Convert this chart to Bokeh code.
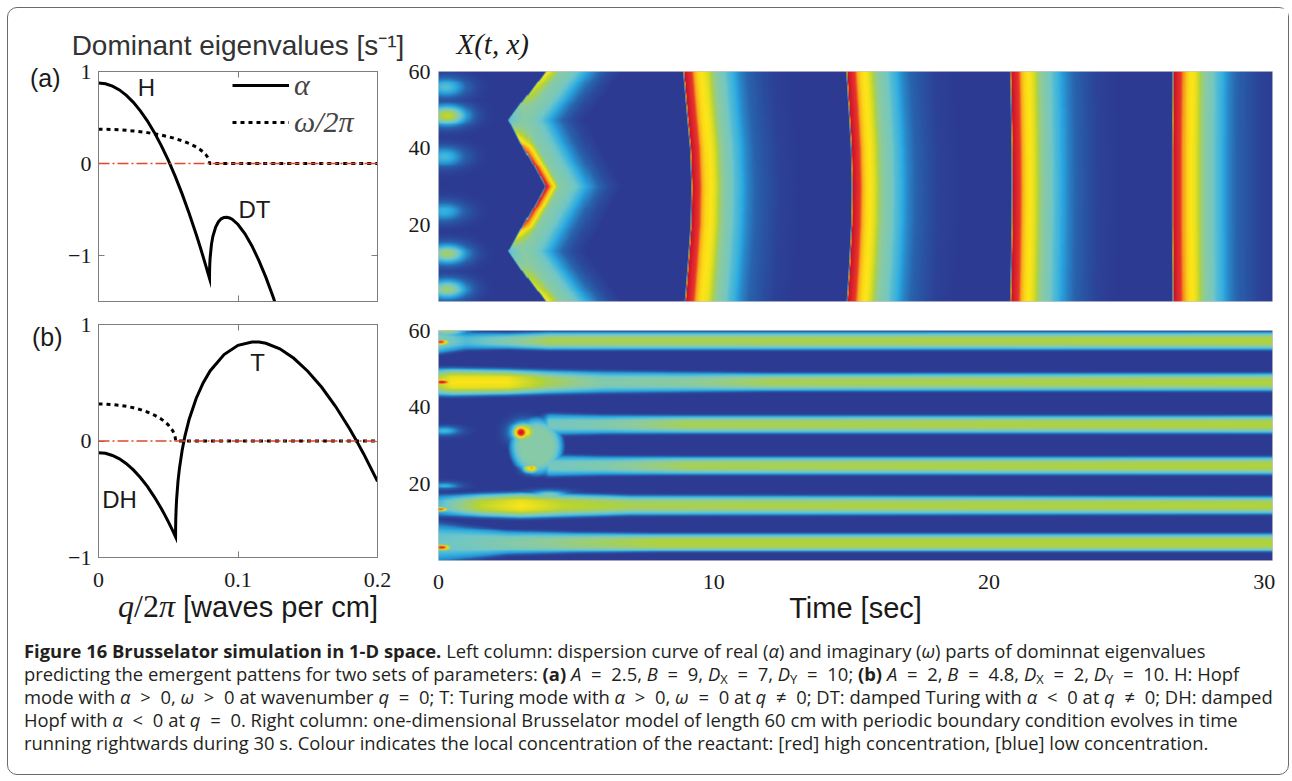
import numpy as np
from bokeh.plotting import figure
from bokeh.models import (Range1d, LinearAxis, FixedTicker, Label, Legend, LegendItem,
                          Span, LinearColorMapper, Div, Title)
from bokeh.layouts import column, row
from bokeh.embed import file_html
from bokeh.resources import INLINE

# ---------------------------------------------------------------- data
# (a) dispersion curve: wavenumber q/2pi, real part alpha, imaginary part omega/2pi
qa = [0, 0.005, 0.01, 0.015, 0.02, 0.025, 0.03, 0.035, 0.04, 0.045, 0.05, 0.055, 0.06,
      0.065, 0.07, 0.073, 0.075, 0.077, 0.0785, 0.0792, 0.0795, 0.07958, 0.07962, 0.0797,
      0.0798, 0.080, 0.081, 0.082, 0.084, 0.086, 0.088, 0.090, 0.092, 0.094, 0.096, 0.100,
      0.105, 0.110, 0.115, 0.120, 0.125, 0.127]
alpha_a = [0.875, 0.867, 0.841, 0.800, 0.741, 0.665, 0.573, 0.464, 0.338, 0.195, 0.036,
           -0.140, -0.333, -0.543, -0.769, -0.913, -1.013, -1.115, -1.193, -1.230, -1.246,
           -1.250, -1.175, -1.125, -1.085, -1.028, -0.876, -0.791, -0.690, -0.633, -0.601,
           -0.586, -0.584, -0.592, -0.608, -0.663, -0.764, -0.896, -1.055, -1.238, -1.443,
           -1.531]
qa_w = [0, 0.005, 0.01, 0.015, 0.02, 0.025, 0.03, 0.035, 0.04, 0.045, 0.05, 0.055, 0.06,
        0.065, 0.07, 0.073, 0.075, 0.077, 0.0785, 0.0792, 0.0795, 0.07958, 0.2]
omega_a = [0.3727, 0.3720, 0.3698, 0.3662, 0.3611, 0.3543, 0.3459, 0.3356, 0.3233, 0.3087,
           0.2914, 0.2710, 0.2466, 0.2169, 0.1790, 0.1500, 0.1260, 0.0952, 0.0619, 0.0367,
           0.0167, 0.0, 0.0]

# (b) dispersion curve
qb = [0, 0.005, 0.01, 0.015, 0.02, 0.025, 0.03, 0.035, 0.04, 0.045, 0.0475, 0.05, 0.053,
      0.054, 0.0548, 0.055, 0.0552, 0.05524, 0.0553, 0.0554, 0.0556, 0.056, 0.057, 0.058,
      0.060, 0.062, 0.065, 0.07, 0.075, 0.08, 0.09, 0.10, 0.11, 0.115, 0.12, 0.13, 0.14,
      0.15, 0.16, 0.17, 0.18, 0.185, 0.19, 0.2]
alpha_b = [-0.100, -0.106, -0.124, -0.153, -0.195, -0.248, -0.313, -0.390, -0.479, -0.580,
           -0.634, -0.692, -0.765, -0.791, -0.811, -0.817, -0.822, -0.823, -0.725, -0.668,
           -0.596, -0.499, -0.345, -0.237, -0.077, 0.045, 0.187, 0.365, 0.498, 0.601, 0.742,
           0.821, 0.850, 0.849, 0.839, 0.791, 0.710, 0.599, 0.461, 0.296, 0.105, 0.001,
           -0.109, -0.346]
qb_w = [0, 0.005, 0.01, 0.015, 0.02, 0.025, 0.03, 0.035, 0.04, 0.045, 0.0475, 0.05, 0.053,
        0.054, 0.0548, 0.055, 0.0552, 0.05524, 0.2]
omega_b = [0.3179, 0.3167, 0.3130, 0.3066, 0.2975, 0.2852, 0.2692, 0.2488, 0.2226, 0.1879,
           0.1657, 0.1383, 0.0919, 0.0687, 0.0410, 0.0302, 0.0117, 0.0, 0.0]

q_ticks = [0, 0.1, 0.2]
eig_ticks = [-1, 0, 1]
space_ticks = [20, 40, 60]
time_ticks = [0, 10, 20, 30]

# (a) space-time map X(t,x)
background_level = 0.12
a_front_x = [0, 10, 20, 30, 40, 50, 60]                    # position [cm]
a_wave2_t = [8.99, 9.10, 9.20, 9.23, 9.18, 9.05, 8.93]     # front time [s]
a_wave3_t = [14.87, 14.96, 15.03, 15.05, 15.02, 14.94, 14.85]
a_wave4_t = [20.80, 20.83, 20.85, 20.86, 20.85, 20.83, 20.80]
a_wave5_t = [26.74, 26.73, 26.72, 26.72, 26.72, 26.73, 26.74]
a_band_tau = [-0.05, 0.0, 0.12, 0.27, 0.38, 0.5, 0.75, 0.9, 1.0, 1.2, 1.4, 1.55, 1.75,
              2.0, 2.3, 2.7, 3.2, 4.0]                     # time behind the front [s]
a_band_val = [0.12, 0.97, 0.93, 0.88, 0.78, 0.72, 0.68, 0.62, 0.55, 0.50, 0.47, 0.42,
              0.38, 0.30, 0.24, 0.19, 0.14, 0.12]          # concentration (0..1)
a_w1_x = [0, 6, 13, 20, 25, 30, 35, 40, 47.5, 54, 60]
a_w1_t = [3.9, 3.25, 2.55, 3.1, 3.5, 3.9, 3.5, 3.1, 2.55, 3.25, 3.9]
a_w1_peak = [0.72, 0.62, 0.42, 0.88, 0.94, 0.96, 0.94, 0.86, 0.42, 0.62, 0.72]
a_w1_tau = [-0.05, 0.0, 0.3, 0.6, 0.9, 1.15, 1.4, 1.65, 1.95, 2.3, 2.8]
a_w1_val = [0.12, 0.55, 0.53, 0.50, 0.48, 0.44, 0.38, 0.31, 0.24, 0.17, 0.12]
a_blob_x = [56.0, 48.6, 37.8, 23.5, 12.4, 3.1]
a_blob_t = [0.25, 0.3, 0.2, 0.2, 0.3, 0.3]
a_blob_v = [0.42, 0.62, 0.40, 0.38, 0.56, 0.55]

# (b) space-time map: stripes (centre [cm]) with time-dependent level and width
b_stripe_x = [57.4, 46.6, 35.5, 24.7, 14.3, 4.5]
b_s1_t = [0, 1, 2.5, 4, 30.3]
b_s1_amp = [0.50, 0.42, 0.50, 0.58, 0.60]
b_s1_w = [1.4, 1.0, 0.9, 1.0, 1.0]
b_s2_t = [0, 0.5, 2.5, 4, 6, 9, 12, 30.3]
b_s2_amp = [0.62, 0.70, 0.70, 0.58, 0.50, 0.52, 0.58, 0.60]
b_s2_w = [1.5, 1.5, 1.4, 1.3, 1.2, 1.1, 1.0, 1.0]
b_s3_t = [0, 3.4, 4.0, 6, 9, 30.3]
b_s3_amp = [0, 0, 0.47, 0.50, 0.58, 0.60]
b_s3_w = [1.0, 1.0, 1.2, 1.05, 1.0, 1.0]
b_s4_t = [0, 3.4, 4.0, 6, 9, 30.3]
b_s4_amp = [0, 0, 0.47, 0.50, 0.58, 0.60]
b_s4_w = [1.0, 1.0, 1.2, 1.05, 1.0, 1.0]
b_s5_t = [0, 0.5, 1.5, 3, 4.5, 7, 30.3]
b_s5_amp = [0.42, 0.50, 0.62, 0.70, 0.62, 0.58, 0.60]
b_s5_w = [1.2, 1.2, 1.3, 1.4, 1.3, 1.1, 1.0]
b_s6_t = [0, 1, 2.5, 5, 8, 30.3]
b_s6_amp = [0.45, 0.47, 0.50, 0.55, 0.60, 0.60]
b_s6_w = [2.2, 1.8, 1.3, 1.1, 1.0, 1.0]
b_cross_d = [0, 1.0, 1.6, 2.1, 2.5, 2.9]
b_cross_f = [1.0, 0.95, 0.75, 0.55, 0.2, 0.0]
b_spot_t = [0.05, 0.10, 0.05, 0.10, 0.2, 0.2, 3.1, 3.0, 3.35, 4.0, 0.3]
b_spot_x = [57.0, 46.6, 13.3, 3.4, 33.8, 19.5, 33.5, 33.4, 24.0, 17.0, 60.0]
b_spot_v = [0.90, 0.97, 0.90, 0.92, 0.40, 0.38, 0.72, 0.97, 0.78, 0.50, 0.55]
b_spot_st = [0.40, 0.50, 0.35, 0.40, 0.6, 0.6, 0.50, 0.32, 0.30, 0.8, 0.8]
b_spot_sx = [0.9, 1.1, 0.8, 0.9, 1.2, 1.0, 2.8, 2.0, 1.3, 1.2, 1.5]
b_ring_t = [2.55, 4.55]          # blob that splits into two stripes: time extent [s]
b_ring_x = [22.0, 37.6]          # and space extent [cm]
b_ring_v = 0.50

# colour scale (printed jet)
pal_pos = [0.0, 0.12, 0.24, 0.36, 0.45, 0.52, 0.60, 0.70, 0.80, 0.88, 0.95, 1.0]
pal_hex = ["#232c7c", "#2c3a92", "#2863ad", "#2aaae2", "#6ec6c9", "#8ecb9c", "#b3d335",
           "#fde517", "#f7a21b", "#e8392a", "#d4172c", "#9e1a1f"]

# ---------------------------------------------------------------- helpers
SERIF = "Liberation Serif"
SANS = "Liberation Sans"
FRAME = "#7d7d7d"
T_END = 30.3


def build_palette(pos, hexes, n=256):
    rgb = np.array([[int(h[i:i + 2], 16) for i in (1, 3, 5)] for h in hexes], float)
    s = np.linspace(0, 1, n)
    cols = np.stack([np.interp(s, pos, rgb[:, k]) for k in range(3)], 1)
    return ["#%02x%02x%02x" % tuple(int(round(c)) for c in cc) for cc in cols]


cmap = LinearColorMapper(palette=build_palette(pal_pos, pal_hex), low=0, high=1)

T = np.linspace(0, T_END, 820)
X = np.linspace(0, 60, 241)
TG, XG = np.meshgrid(T, X)
bg = background_level

# panel (a) field
field_a = np.full(TG.shape, bg)
front1 = np.interp(X, a_w1_x, a_w1_t)[:, None]
peak1 = np.interp(X, a_w1_x, a_w1_peak)[:, None]
tau = TG - front1
v1 = np.interp(tau, a_w1_tau, a_w1_val, left=bg, right=bg)
v1 = v1 + (peak1 - a_w1_val[1]) * np.clip(1 - tau / 0.5, 0, 1) * (tau >= 0)
field_a = np.maximum(field_a, v1)
for wt in (a_wave2_t, a_wave3_t, a_wave4_t, a_wave5_t):
    fr = np.interp(X, a_front_x, wt)[:, None]
    field_a = np.maximum(field_a, np.interp(TG - fr, a_band_tau, a_band_val, left=bg, right=bg))
for bx, bt, bv in zip(a_blob_x, a_blob_t, a_blob_v):
    g = np.exp(-((TG - bt) / 0.8) ** 2 - ((XG - bx) / 2.8) ** 2)
    field_a = np.maximum(field_a, bg + (bv - bg) * g)

# panel (b) field
field_b = np.full(TG.shape, bg)
stripes = [(b_s1_t, b_s1_amp, b_s1_w), (b_s2_t, b_s2_amp, b_s2_w), (b_s3_t, b_s3_amp, b_s3_w),
           (b_s4_t, b_s4_amp, b_s4_w), (b_s5_t, b_s5_amp, b_s5_w), (b_s6_t, b_s6_amp, b_s6_w)]
for xc, (tk, ak, wk) in zip(b_stripe_x, stripes):
    amp = np.interp(T, tk, ak)[None, :]
    wid = np.interp(T, tk, wk)[None, :]
    frac = np.interp(np.abs(XG - xc) / wid, b_cross_d, b_cross_f, right=0.0)
    field_b = np.maximum(field_b, bg + (amp - bg) * frac)
tm, th = 0.5 * (b_ring_t[0] + b_ring_t[1]), 0.5 * (b_ring_t[1] - b_ring_t[0])
xm, xh = 0.5 * (b_ring_x[0] + b_ring_x[1]), 0.5 * (b_ring_x[1] - b_ring_x[0])
r = np.sqrt(((TG - tm) / th) ** 2 + ((XG - xm) / xh) ** 2)
ring = np.interp(r, [0, 0.6, 0.8, 0.92, 1.0, 1.06], [1.0, 1.0, 0.8, 0.55, 0.3, 0.0])
field_b = np.maximum(field_b, bg + (b_ring_v - bg) * ring)
for st, sx, sv, sst, ssx in zip(b_spot_t, b_spot_x, b_spot_v, b_spot_st, b_spot_sx):
    g = np.exp(-((TG - st) / sst) ** 2 - ((XG - sx) / ssx) ** 2)
    field_b = np.maximum(field_b, bg + (sv - bg) * g)


def hidden_axis(ticks):
    return LinearAxis(ticker=FixedTicker(ticks=ticks), major_tick_in=6, major_tick_out=0,
                      minor_tick_in=0, minor_tick_out=0, axis_line_color=FRAME,
                      major_tick_line_color=FRAME, major_label_text_font_size="1px",
                      major_label_overrides={t: "" for t in ticks}, major_label_standoff=0)


def frame_axes(p, xticks, yticks, show_x, x_standoff=15):
    for ax, ticks in ((p.xaxis[0], xticks), (p.yaxis[0], yticks)):
        ax.ticker = FixedTicker(ticks=ticks)
        ax.major_tick_in, ax.major_tick_out = 6, 0
        ax.minor_tick_in, ax.minor_tick_out = 0, 0
        ax.axis_line_color = FRAME
        ax.major_tick_line_color = FRAME
        ax.major_label_text_font = SERIF
        ax.major_label_text_font_size = "22px"
        ax.major_label_text_color = "#1a1a1a"
    p.yaxis[0].major_label_standoff = 7
    p.yaxis[0].major_label_overrides = {-1: "\u22121", 0: "0", 1: "1"}
    if show_x:
        p.xaxis[0].major_label_standoff = x_standoff
    else:
        p.xaxis[0].major_label_text_font_size = "1px"
        p.xaxis[0].major_label_overrides = {t: "" for t in xticks}
        p.xaxis[0].major_label_standoff = 0
    p.add_layout(hidden_axis(yticks), "right")
    p.add_layout(hidden_axis(xticks), "above")
    p.grid.visible = False
    p.outline_line_color = FRAME


def txt(p, x, y, s, size="24px"):
    p.add_layout(Label(x=x, y=y, text=s, text_font=SANS, text_font_size=size,
                       text_align="center", text_baseline="middle", text_color="#1a1a1a"))


def html_div(html, w, h):
    return Div(text=html, width=w, height=h, margin=0)


LEFT_W, PANEL_W, MAP_W = 56, 341, 883
ROW1_H, ROW2_H = 300, 323

# ---------------------------------------------------------------- (a) dispersion
pa = figure(width=PANEL_W, height=ROW1_H, x_range=Range1d(0, 0.2), y_range=Range1d(-1.5, 1),
            min_border_left=34, min_border_right=28, min_border_top=60, min_border_bottom=7,
            output_backend="svg", toolbar_location=None)
pa.title = Title(text="Dominant eigenvalues [s\u207b\u00b9]", align="center", text_font=SANS,
                 text_font_size="28px", text_font_style="normal", text_color="#333333",
                 standoff=22)
frame_axes(pa, q_ticks, eig_ticks, False)
pa.add_layout(Span(location=0, dimension="width", line_color="#e2462f", line_width=1.5,
                   line_dash="11 3 2 3"))
ra = pa.line(qa, alpha_a, line_color="black", line_width=3, line_join="miter")
wa = pa.line(qa_w, omega_a, line_color="black", line_width=3, line_dash="4 4")
leg = Legend(items=[LegendItem(label="α", renderers=[ra]),
                    LegendItem(label="ω/2π", renderers=[wa])],
             location=(134, 162), glyph_width=57, glyph_height=30, label_height=30,
             spacing=3, padding=0, margin=0, label_standoff=5,
             label_text_font=SERIF, label_text_font_style="italic",
             label_text_font_size="30px", background_fill_alpha=0, border_line_alpha=0)
pa.add_layout(leg)
txt(pa, 0.0344, 0.828, "H")
txt(pa, 0.1118, -0.495, "DT")

# ---------------------------------------------------------------- (a) map
pra = figure(width=MAP_W, height=ROW1_H, x_range=Range1d(0, T_END), y_range=Range1d(0, 60),
             min_border_left=31, min_border_right=16, min_border_top=63, min_border_bottom=7,
             output_backend="svg", toolbar_location=None)
pra.title = Title(text="X(t, x)", align="left", offset=18, text_font=SERIF,
                  text_font_size="29px", text_font_style="italic", text_color="#1a1a1a",
                  standoff=23)
pra.image(image=[field_a.astype(np.float32)], x=0, y=0, dw=T_END, dh=60, color_mapper=cmap)
pra.xaxis.visible = False
pra.grid.visible = False
pra.outline_line_color = "#c8c8c8"
ya = pra.yaxis[0]
ya.ticker = FixedTicker(ticks=space_ticks)
ya.major_tick_in = ya.major_tick_out = ya.minor_tick_in = ya.minor_tick_out = 0
ya.axis_line_color = None
ya.major_label_text_font = SERIF
ya.major_label_text_font_size = "22px"
ya.major_label_text_color = "#1a1a1a"
ya.major_label_standoff = 8

# ---------------------------------------------------------------- (b) dispersion
pb = figure(width=PANEL_W, height=287, x_range=Range1d(0, 0.2), y_range=Range1d(-1, 1),
            min_border_left=34, min_border_right=28, min_border_top=16, min_border_bottom=38,
            output_backend="svg", toolbar_location=None)
frame_axes(pb, q_ticks, eig_ticks, True, x_standoff=15)
pb.add_layout(Span(location=0, dimension="width", line_color="#e2462f", line_width=1.5,
                   line_dash="11 3 2 3"))
pb.line(qb, alpha_b, line_color="black", line_width=3, line_join="miter")
pb.line(qb_w, omega_b, line_color="black", line_width=3, line_dash="4 4")
txt(pb, 0.114, 0.674, "T")
txt(pb, 0.0151, -0.502, "DH")

# ---------------------------------------------------------------- (b) map
prb = figure(width=MAP_W, height=ROW2_H, x_range=Range1d(0, T_END), y_range=Range1d(0, 60),
             min_border_left=31, min_border_right=16, min_border_top=22, min_border_bottom=71,
             output_backend="svg", toolbar_location=None)
prb.image(image=[field_b.astype(np.float32)], x=0, y=0, dw=T_END, dh=60, color_mapper=cmap)
prb.grid.visible = False
prb.outline_line_color = "#c8c8c8"
yb = prb.yaxis[0]
yb.ticker = FixedTicker(ticks=space_ticks)
xb = prb.xaxis[0]
xb.ticker = FixedTicker(ticks=time_ticks)
for ax in (xb, yb):
    ax.major_tick_in = ax.major_tick_out = ax.minor_tick_in = ax.minor_tick_out = 0
    ax.axis_line_color = None
    ax.major_label_text_font = SERIF
    ax.major_label_text_font_size = "22px"
    ax.major_label_text_color = "#1a1a1a"
yb.major_label_standoff = 8
xb.major_label_standoff = 14
xb.axis_label = "Time [sec]"
xb.axis_label_text_font = SANS
xb.axis_label_text_font_size = "29px"
xb.axis_label_text_font_style = "normal"
xb.axis_label_text_color = "#1a1a1a"
xb.axis_label_standoff = 0

# ---------------------------------------------------------------- side texts
div_a = html_div('<div style="padding:56px 0 0 22px;font-family:\'Liberation Sans\';'
                 'font-size:25px;line-height:28px;color:#1a1a1a;white-space:nowrap">(a)</div>',
                 LEFT_W, ROW1_H)
div_b = html_div('<div style="padding:15px 0 0 24px;font-family:\'Liberation Sans\';'
                 'font-size:25px;line-height:28px;color:#1a1a1a;white-space:nowrap">(b)</div>',
                 LEFT_W, ROW2_H)
div_q = html_div('<div style="padding:0 0 0 54px;line-height:22px;color:#1a1a1a;'
                 'white-space:nowrap"><span style="font-family:\'Liberation Serif\';'
                 'font-style:italic;font-size:32px">q</span><span style="font-family:'
                 '\'Liberation Serif\';font-size:32px">/2</span><span style="font-family:'
                 '\'Liberation Serif\';font-style:italic;font-size:32px">π</span>'
                 '<span style="font-family:\'Liberation Sans\';font-size:29px"> '
                 '[waves per cm]</span></div>', PANEL_W, ROW2_H - 287)

# ---------------------------------------------------------------- caption
I = lambda s: "<i>%s</i>" % s
SUB = '<sub style="font-size:70%;line-height:0;vertical-align:-0.2em">'
R = lambda s: ' <span style="margin:0 5px">%s</span> ' % s
caption = (
    '<div style="padding:8px 0 0 16px;font-family:\'Open Sans\',sans-serif;'
    'font-size:18.4px;line-height:23px;color:#231f20;white-space:nowrap;">'
    "<b>Figure 16 Brusselator simulation in 1-D space.</b> Left column: dispersion curve of "
    "real (" + I("α") + ") and imaginary (" + I("ω") + ") parts of dominnat eigenvalues<br>"
    "predicting the emergent pattens for two sets of parameters: <b>(a)</b> "
    + I("A") + R("=") + "2.5, " + I("B") + R("=") + "9, " + I("D") + SUB + "X</sub>" + R("=")
    + "7, " + I("D") + SUB + "Y</sub>" + R("=") + "10; <b>(b)</b> " + I("A") + R("=") + "2, "
    + I("B") + R("=") + "4.8, " + I("D") + SUB + "X</sub>" + R("=") + "2, " + I("D") + SUB
    + "Y</sub>" + R("=") + "10. H: Hopf<br>"
    "mode with " + I("α") + R("&gt;") + "0, " + I("ω") + R("&gt;") + "0 at wavenumber "
    + I("q") + R("=") + "0; T: Turing mode with " + I("α") + R("&gt;") + "0, " + I("ω")
    + R("=") + "0 at " + I("q") + R("≠") + "0; DT: damped Turing with " + I("α") + R("&lt;")
    + "0 at " + I("q") + R("≠") + "0; DH: damped<br>"
    "Hopf with " + I("α") + R("&lt;") + "0 at " + I("q") + R("=") + "0. Right column: "
    "one-dimensional Brusselator model of length 60 cm with periodic boundary condition "
    "evolves in time<br>"
    "running rightwards during 30 s. Colour indicates the local concentration of the "
    "reactant: [red] high concentration, [blue] low concentration."
    "</div>"
)
cap = html_div(caption, LEFT_W + PANEL_W + MAP_W, 143)

layout = column(row(div_a, pa, pra), row(div_b, column(pb, div_q), prb), cap,
                margin=(7, 0, 0, 7),
                styles={"border": "1.5px solid #6b6b6b", "border-radius": "10px"})

open("out.html", "w").write(file_html(layout, INLINE))
